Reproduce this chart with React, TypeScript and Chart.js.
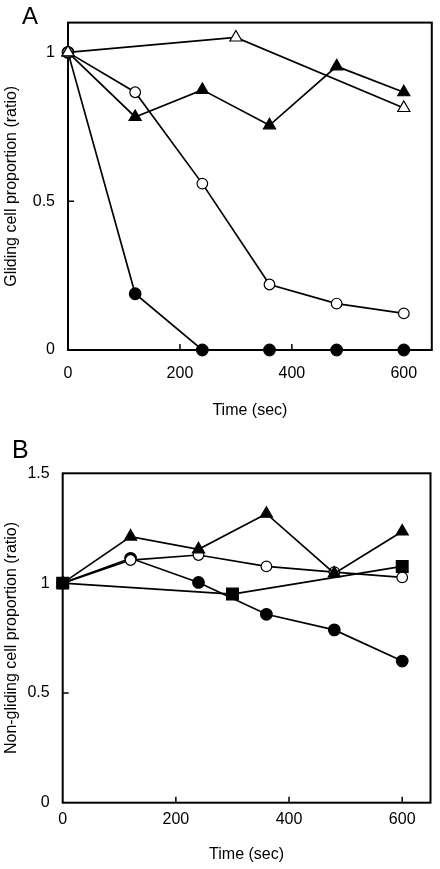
import React, { useEffect, useRef } from 'react';
import { Chart, registerables } from 'chart.js';

Chart.register(...registerables);

// ---------- Panel A data ----------
const A_TIME = [0, 120, 240, 360, 480, 600];
const A_OPEN_TRI_TIME = [0, 300, 600];
const A_OPEN_TRI = [1.0, 1.05, 0.813];
const A_FILLED_TRI = [1.0, 0.783, 0.874, 0.755, 0.953, 0.866];
const A_OPEN_CIRCLE = [1.0, 0.866, 0.559, 0.22, 0.156, 0.123];
const A_FILLED_CIRCLE = [1.0, 0.189, 0, 0, 0, 0];
const A_Y_TICKS = [0, 0.5, 1];

// ---------- Panel B data ----------
const B_TIME = [0, 120, 240, 360, 480, 600];
const B_SQUARE_TIME = [0, 300, 600];
const B_SQUARE = [1.0, 0.95, 1.076];
const B_FILLED_TRI = [1.0, 1.212, 1.154, 1.316, 1.044, 1.235];
const B_OPEN_CIRCLE = [1.0, 1.105, 1.128, 1.076, 1.05, 1.026];
const B_FILLED_CIRCLE = [1.0, 1.113, 1.003, 0.858, 0.787, 0.645];
const B_Y_TICKS = [0, 0.5, 1, 1.5];

const X_TICKS = [0, 200, 400, 600];

const FONT = "'Liberation Sans', Arial, Helvetica, sans-serif";

const pts = (xs: number[], ys: number[]) => xs.map((x, i) => ({ x, y: ys[i] }));

const frameAndTicks = {
  id: 'frameAndTicks',
  beforeDatasetsDraw(chart: any) {
    const { ctx, chartArea } = chart;
    const { left, top, right, bottom } = chartArea;
    const x = chart.scales.x;
    const y = chart.scales.y;
    ctx.save();
    ctx.strokeStyle = '#000';
    ctx.lineWidth = 2;
    ctx.strokeRect(left, top, right - left, bottom - top);
    ctx.lineWidth = 1.5;
    ctx.beginPath();
    x.ticks.forEach((t: any) => {
      const px = x.getPixelForValue(t.value);
      if (px > left + 1 && px < right - 1) {
        ctx.moveTo(px, bottom);
        ctx.lineTo(px, bottom - 6);
      }
    });
    y.ticks.forEach((t: any) => {
      const py = y.getPixelForValue(t.value);
      if (py > top + 1 && py < bottom - 1) {
        ctx.moveTo(left, py);
        ctx.lineTo(left + 6, py);
      }
    });
    ctx.stroke();
    ctx.restore();
  },
};

type Style = 'openTri' | 'filledTri' | 'openCircle' | 'filledCircle' | 'filledSquare';

function ds(data: { x: number; y: number }[], style: Style) {
  const open = style === 'openTri' || style === 'openCircle';
  const pointStyle =
    style === 'openTri' || style === 'filledTri' ? 'triangle' : style === 'filledSquare' ? 'rect' : 'circle';
  const radius =
    style === 'openTri' || style === 'filledTri' ? 7 : style === 'filledSquare' ? 8.3 : style === 'openCircle' ? 5.3 : 5.8;
  return {
    data,
    borderColor: '#000',
    borderWidth: 1.7,
    backgroundColor: open ? '#fff' : '#000',
    pointBackgroundColor: open ? '#fff' : '#000',
    pointBorderColor: '#000',
    pointBorderWidth: 1.2,
    pointStyle,
    pointRadius: radius,
    pointHoverRadius: radius,
    fill: false,
    tension: 0,
    clip: false,
  };
}

interface PanelCfg {
  height: number;
  datasets: any[];
  yMax: number;
  yTicks: number[];
  yTitle: string;
  padTop: number;
  padRight: number;
  yWidth: number;
  xHeight: number;
  xTickPad: number;
  xTitlePadBottom: number;
}

function Panel({ cfg }: { cfg: PanelCfg }) {
  const ref = useRef<HTMLCanvasElement | null>(null);
  useEffect(() => {
    if (!ref.current) return;
    const tickFont = { family: FONT, size: 16 };
    const chart = new Chart(ref.current, {
      type: 'line',
      data: { datasets: cfg.datasets },
      plugins: [frameAndTicks],
      options: {
        animation: false,
        responsive: false,
        devicePixelRatio: 1,
        events: [],
        layout: { padding: { top: cfg.padTop, right: cfg.padRight, left: 0, bottom: 0 } },
        plugins: { legend: { display: false }, tooltip: { enabled: false } },
        scales: {
          x: {
            type: 'linear',
            min: 0,
            max: 650,
            afterBuildTicks: (s: any) => {
              s.ticks = X_TICKS.map((v) => ({ value: v }));
            },
            afterFit: (s: any) => {
              s.height = cfg.xHeight;
            },
            grid: { display: false, drawTicks: false },
            border: { display: false },
            ticks: {
              padding: cfg.xTickPad,
              color: '#000',
              font: tickFont,
              maxRotation: 0,
              autoSkip: false,
              callback: (v: any) => String(v),
            },
            title: {
              display: true,
              text: 'Time (sec)',
              color: '#000',
              font: { family: FONT, size: 16 },
              padding: { top: 0, bottom: cfg.xTitlePadBottom },
            },
          },
          y: {
            type: 'linear',
            min: 0,
            max: cfg.yMax,
            afterBuildTicks: (s: any) => {
              s.ticks = cfg.yTicks.map((v) => ({ value: v }));
            },
            afterFit: (s: any) => {
              s.width = cfg.yWidth;
            },
            grid: { display: false, drawTicks: false },
            border: { display: false },
            ticks: {
              padding: 13,
              color: '#000',
              font: tickFont,
              autoSkip: false,
              callback: (v: any) => String(v),
            },
            title: {
              display: true,
              text: cfg.yTitle,
              color: '#000',
              font: { family: FONT, size: 16 },
              padding: { top: 2.4, bottom: 0 },
            },
          },
        },
      } as any,
    });
    return () => chart.destroy();
  }, []);
  return <canvas ref={ref} width={440} height={cfg.height} style={{ display: 'block' }} />;
}

const panelA: PanelCfg = {
  height: 430,
  datasets: [
    ds(pts(A_OPEN_TRI_TIME, A_OPEN_TRI), 'openTri'),
    ds(pts(A_TIME, A_FILLED_TRI), 'filledTri'),
    ds(pts(A_TIME, A_OPEN_CIRCLE), 'openCircle'),
    ds(pts(A_TIME, A_FILLED_CIRCLE), 'filledCircle'),
  ],
  yMax: 1.1,
  yTicks: A_Y_TICKS,
  yTitle: 'Gliding cell proportion (ratio)',
  padTop: 21,
  padRight: 7,
  yWidth: 68,
  xHeight: 80,
  xTickPad: 14.4,
  xTitlePadBottom: 9.4,
};

const panelB: PanelCfg = {
  height: 434,
  datasets: [
    ds(pts(B_SQUARE_TIME, B_SQUARE), 'filledSquare'),
    ds(pts(B_TIME, B_FILLED_TRI), 'filledTri'),
    ds(pts(B_TIME, B_OPEN_CIRCLE), 'openCircle'),
    ds(pts(B_TIME, B_FILLED_CIRCLE), 'filledCircle'),
  ],
  yMax: 1.5,
  yTicks: B_Y_TICKS,
  yTitle: 'Non-gliding cell proportion (ratio)',
  padTop: 38.3,
  padRight: 7.3,
  yWidth: 62.7,
  xHeight: 66.3,
  xTickPad: 7.7,
  xTitlePadBottom: 4.4,
};

export default function App() {
  const letter: React.CSSProperties = {
    position: 'absolute',
    fontFamily: FONT,
    lineHeight: 1,
    color: '#000',
    margin: 0,
  };
  return (
    <div style={{ position: 'absolute', left: 0, top: 0, width: 440, height: 869, background: '#fff', overflow: 'hidden' }}>
      <div style={{ position: 'absolute', left: 0, top: 0 }}>
        <Panel cfg={panelA} />
      </div>
      <div style={{ position: 'absolute', left: 0, top: 435 }}>
        <Panel cfg={panelB} />
      </div>
      <div style={{ ...letter, left: 22, top: 4, fontSize: 24 }}>A</div>
      <div style={{ ...letter, left: 12, top: 437, fontSize: 25 }}>B</div>
    </div>
  );
}
